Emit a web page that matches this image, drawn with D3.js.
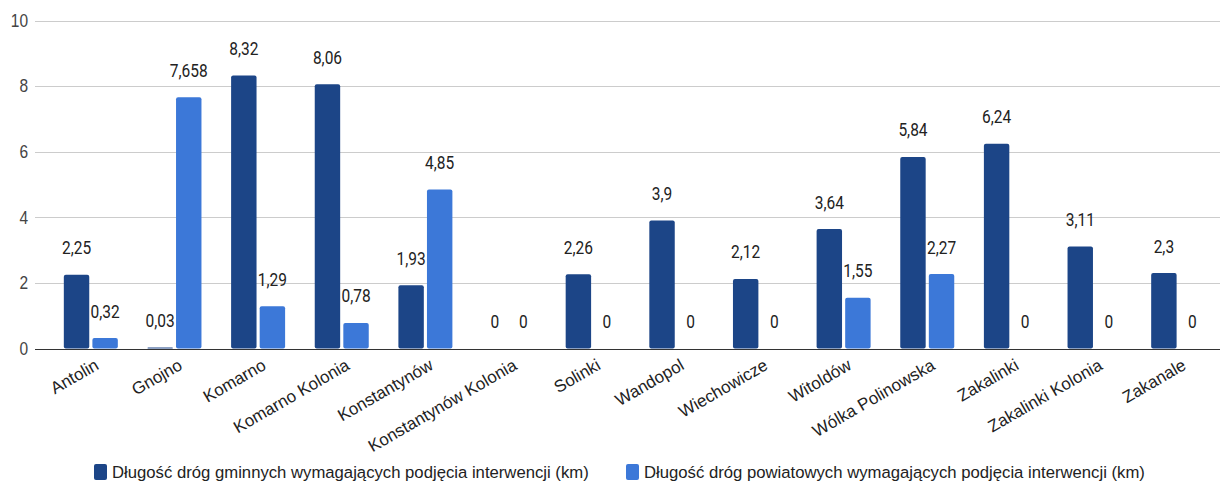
<!DOCTYPE html>
<html><head><meta charset="utf-8">
<script src="https://cdn.jsdelivr.net/npm/d3@7"></script>
<style>
body{margin:0;background:#fff;}
svg text{font-family:Roboto, Arial, sans-serif;}
</style></head>
<body><svg id="c" width="1221" height="483"></svg>
<script>
const categories = ["Antolin","Gnojno","Komarno","Komarno Kolonia","Konstantynów","Konstantynów Kolonia","Solinki","Wandopol","Wiechowicze","Witoldów","Wólka Polinowska","Zakalinki","Zakalinki Kolonia","Zakanale"];
const gminne = [2.25,0.03,8.32,8.06,1.93,0,2.26,3.9,2.12,3.64,5.84,6.24,3.11,2.3];
const powiatowe = [0.32,7.658,1.29,0.78,4.85,0,0,0,0,1.55,2.27,0,0,0];
const seriesNames = ["Długość dróg gminnych wymagających podjęcia interwencji (km)","Długość dróg powiatowych wymagających podjęcia interwencji (km)"];
const colors = ["#1c4587","#3c78d8"];
const yTicks = [0,2,4,6,8,10];

const SY = 1.15; // vertical stretch of glyphs seen in the reference
const svg = d3.select("#c");
const x0 = d3.scaleBand().domain(categories).range([49,1220]).paddingInner(0).paddingOuter(0);
const x1 = d3.scaleBand().domain([0,1]).range([x0.bandwidth()/2-27, x0.bandwidth()/2+27]).paddingInner(0.11);
const y = d3.scaleLinear().domain([0,10]).range([348.5,20.5]);

// grid
svg.append("g").selectAll("line").data(yTicks.filter(d=>d>0)).join("line")
  .attr("x1",35).attr("x2",1220).attr("y1",d=>Math.round(y(d))+0.5).attr("y2",d=>Math.round(y(d))+0.5)
  .attr("stroke","#cccccc").attr("stroke-width",1);
// y labels
svg.append("g").selectAll("text").data(yTicks).join("text")
  .attr("transform",d=>`translate(28,${y(d)}) scale(1,${SY})`).attr("dy","0.35em").attr("text-anchor","end")
  .style("font-family","'Liberation Sans', Arial, sans-serif")
  .attr("font-size",15.5).attr("fill","#444").text(d=>d);

const data = categories.map((c,i)=>({c, vals:[gminne[i], powiatowe[i]]}));
const g = svg.append("g").selectAll("g").data(data).join("g").attr("transform",d=>`translate(${x0(d.c)},0)`);
g.selectAll("rect").data(d=>d.vals.map((v,k)=>({v,k}))).join("rect")
  .attr("x",d=>x1(d.k)).attr("width",x1.bandwidth())
  .attr("y",d=>y(d.v)).attr("height",d=>y(0)-y(d.v))
  .attr("rx",d=>Math.min(2,(y(0)-y(d.v))/2)).attr("fill",d=>colors[d.k]);
g.selectAll("text").data(d=>d.vals.map((v,k)=>({v,k}))).join("text")
  .attr("transform",d=>`translate(${x1(d.k)+x1.bandwidth()/2},${y(d.v)-20.5}) scale(1,${SY})`)
  .attr("text-anchor","middle").attr("font-size",15.5).attr("fill","#222")
  .text(d=>String(d.v).replace(".",","));

// baseline
svg.append("line").attr("x1",35).attr("x2",1220).attr("y1",Math.round(y(0))+0.5).attr("y2",Math.round(y(0))+0.5)
  .attr("stroke","#333").attr("stroke-width",1);

// x labels
svg.append("g").selectAll("text").data(categories).join("text")
  .attr("transform",d=>`translate(${x0(d)+x0.bandwidth()/2+3},358) rotate(-30)`)
  .attr("text-anchor","end").attr("dy","0.71em")
  .style("font-family","'Liberation Sans', Arial, sans-serif")
  .attr("font-size",17).attr("fill","#222").text(d=>d);

// legend
const lg = svg.append("g");
const lx = [94, 626];
seriesNames.forEach((n,i)=>{
  lg.append("rect").attr("x",lx[i]).attr("y",464).attr("width",13).attr("height",16).attr("rx",2).attr("fill",colors[i]);
  lg.append("text").attr("x",lx[i]+18).attr("y",472).attr("dy","0.35em")
    .style("font-family","'Liberation Sans', Arial, sans-serif")
    .attr("font-size",16.7).attr("fill","#222").text(n);
});
</script></body></html>
